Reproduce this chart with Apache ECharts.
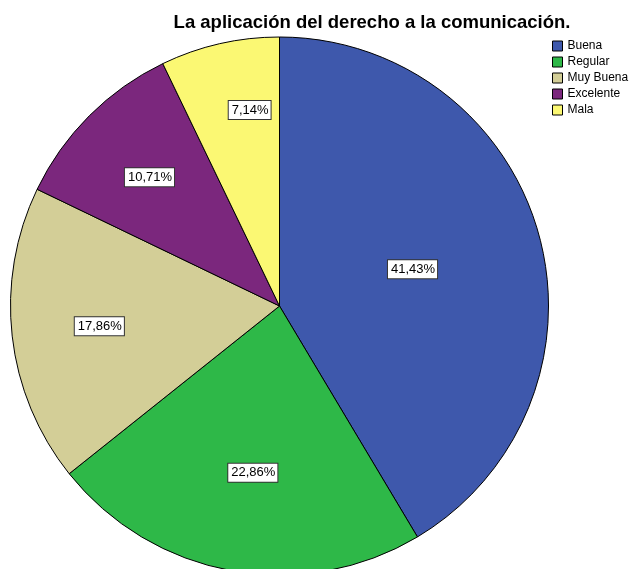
<!DOCTYPE html>
<html>
<head>
<meta charset="utf-8">
<script src="https://cdn.jsdelivr.net/npm/echarts@6/dist/echarts.min.js"></script>
<style>
  html, body { margin: 0; padding: 0; background: #fff; }
  #chart { width: 630px; height: 569px; }
</style>
</head>
<body>
<div id="chart"></div>
<script>
// categorias y frecuencias (n = 140)
var categorias = ['Buena', 'Regular', 'Muy Buena', 'Excelente', 'Mala']
var frecuencias = [58, 32, 25, 15, 10]
var colores = ['#3e58ac', '#2eb848', '#d3ce97', '#7b277d', '#fbf873']
// donde va cada etiqueta: fraccion del radio y giro (grados) respecto al angulo medio
var etiquetaRadio = [0.513, 0.628, 0.674, 0.68, 0.737]
var etiquetaGiro = [0, -1.2, 0, -0.3, 4.2]

var CX = 279.5
var CY = 306
var R = 269

var chart = echarts.init(document.getElementById('chart'))

var datos = categorias.map(function (c, i) {
  return { name: c, value: frecuencias[i], itemStyle: { color: colores[i] } }
})

chart.setOption({
  animation: false,
  title: {
    text: 'La aplicación del derecho a la comunicación.',
    left: 367,
    textAlign: 'center',
    top: 8,
    textStyle: { fontFamily: 'Liberation Sans', fontSize: 18.5, fontWeight: 'bold', color: '#000' }
  },
  legend: {
    orient: 'vertical',
    left: 547,
    top: 35,
    icon: 'rect',
    itemWidth: 10,
    itemHeight: 10,
    itemGap: 4,
    textStyle: { fontFamily: 'Liberation Sans', fontSize: 12, color: '#000' },
    itemStyle: { borderColor: '#000', borderWidth: 1 },
    data: categorias
  },
  series: [{
    type: 'pie',
    center: [CX, CY],
    radius: [0, R],
    startAngle: 90,
    clockwise: true,
    avoidLabelOverlap: false,
    itemStyle: { borderColor: '#000', borderWidth: 1 },
    label: {
      position: 'inside',
      formatter: function (p) {
        return p.percent.toFixed(2).replace('.', ',') + '%'
      },
      fontFamily: 'Liberation Sans',
      fontSize: 13,
      color: '#000',
      backgroundColor: '#fff',
      borderColor: '#333',
      borderWidth: 1,
      padding: [3, 2, 2, 3]
    },
    labelLayout: function (p) {
      var i = p.dataIndex
      var r = p.labelRect
      var mx = r.x + r.width / 2 - CX
      var my = r.y + r.height / 2 - CY
      var ang = Math.atan2(my, mx) + etiquetaGiro[i] * Math.PI / 180
      var d = etiquetaRadio[i] * R
      return {
        x: CX + d * Math.cos(ang),
        y: CY + d * Math.sin(ang),
        align: 'center',
        verticalAlign: 'middle'
      }
    },
    labelLine: { show: false },
    emphasis: { disabled: true },
    data: datos
  }]
})
</script>
</body>
</html>
